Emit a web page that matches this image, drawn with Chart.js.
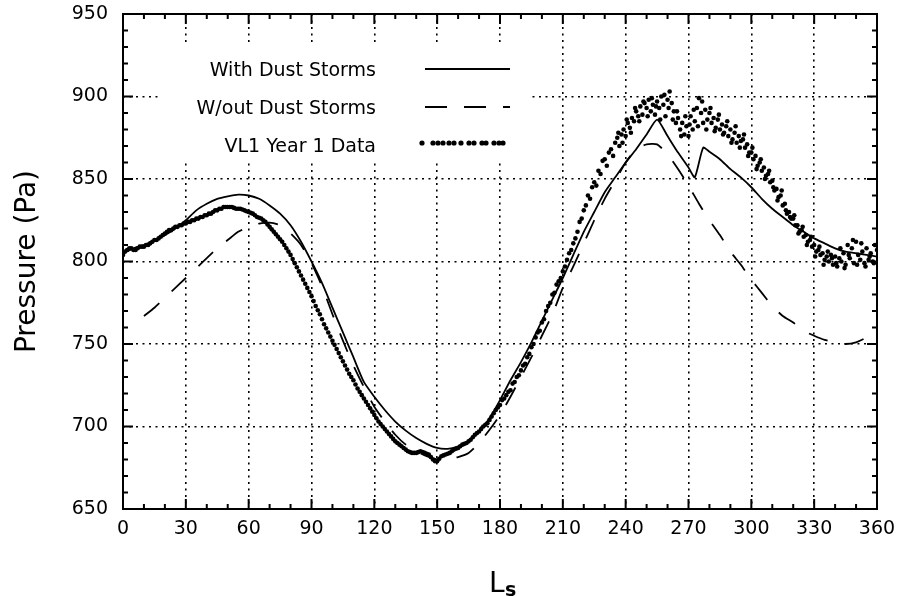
<!DOCTYPE html>
<html>
<head>
<meta charset="utf-8">
<script src="https://cdn.jsdelivr.net/npm/chart.js@4.4.0/dist/chart.umd.min.js"></script>
<style>
  html, body { margin: 0; padding: 0; background: #fff; }
</style>
</head>
<body>
<canvas id="chart" width="898" height="596"></canvas>
<script>
// model run with dust storms
const withLs = [0, 5, 10, 15, 20, 25, 30, 35, 40, 45, 50, 55, 60, 65, 70, 75, 80, 85, 90, 95,
  100, 105, 110, 115, 120, 125, 130, 135, 140, 145, 150, 155, 160, 165, 170, 175, 180, 185, 190, 195,
  200, 205, 210, 215, 220, 225, 230, 235, 240, 245, 250, 255, 260, 265, 270, 273, 277,
  280, 285, 290, 295, 300, 305, 310, 315, 320, 325, 330, 335, 340, 345, 350, 355, 360];
const withP = [805, 808, 810, 813, 816, 820, 825, 831, 835, 838, 839.5, 840.5, 840, 838, 834, 829, 822, 812, 800, 787,
  772, 757, 742, 727, 718, 710, 703, 697.5, 693, 689.5, 687, 686.5, 688, 691, 697, 705, 716, 728, 739, 751,
  764, 777, 790, 804, 818, 830, 842, 851, 860, 868, 877, 886, 876, 866, 857, 851, 869,
  866.5, 862, 856, 851, 845, 838, 832, 827, 822, 818, 814, 811, 808, 806, 805, 804, 803];

// model run without dust storms
const withoutLs = [10, 15, 20, 25, 30, 35, 40, 45, 50, 55, 60, 65, 70, 75, 80, 85, 90, 95,
  100, 105, 110, 115, 120, 125, 130, 135, 140, 145, 150, 155, 160, 165, 170, 175, 180, 185, 190, 195,
  200, 205, 210, 215, 220, 225, 230, 235, 240, 245, 250, 255, 260, 265, 270, 275, 280, 285, 290, 295,
  300, 305, 310, 315, 320, 325, 330, 335, 340, 345, 350, 355, 360];
const withoutP = [767, 772, 778, 784, 790, 796, 802, 808, 813, 818, 821, 823, 823.5, 822, 817, 810, 799, 785,
  768, 752, 737, 724, 712, 703, 695, 689, 685, 682, 680, 680, 681.5, 684, 690, 698, 707, 718, 730, 742,
  755, 768, 784, 797, 811, 825, 838, 849, 860, 868, 871, 871, 865, 856, 846, 835, 825, 816, 806, 798,
  789, 781, 773, 767, 763, 758, 755, 752.5, 751, 750, 751, 754, 759];

// Viking Lander 1, year 1 (one reading per degree of Ls)
const vlLs = [0, 1, 2, 3, 4, 5, 6, 7, 8, 9, 10, 11, 12, 13, 14, 15, 16, 17, 18, 19,
  20, 21, 22, 23, 24, 25, 26, 27, 28, 29, 30, 31, 32, 33, 34, 35, 36, 37, 38, 39,
  40, 41, 42, 43, 44, 45, 46, 47, 48, 49, 50, 51, 52, 53, 54, 55, 56, 57, 58, 59,
  60, 61, 62, 63, 64, 65, 66, 67, 68, 69, 70, 71, 72, 73, 74, 75, 76, 77, 78, 79,
  80, 81, 82, 83, 84, 85, 86, 87, 88, 89, 90, 91, 92, 93, 94, 95, 96, 97, 98, 99,
  100, 101, 102, 103, 104, 105, 106, 107, 108, 109, 110, 111, 112, 113, 114, 115, 116, 117, 118, 119,
  120, 121, 122, 123, 124, 125, 126, 127, 128, 129, 130, 131, 132, 133, 134, 135, 136, 137, 138, 139,
  140, 141, 142, 143, 144, 145, 146, 147, 148, 149, 150, 151, 152, 153, 154, 155, 156, 157, 158, 159,
  160, 161, 162, 163, 164, 165, 166, 167, 168, 169, 170, 171, 172, 173, 174, 175, 176, 177, 178, 179,
  180, 181, 182, 183, 184, 185, 186, 187, 188, 189, 190, 191, 192, 193, 194, 195, 196, 197, 198, 199,
  200, 201, 202, 203, 204, 205, 206, 207, 208, 209, 210, 211, 212, 213, 214, 215, 216, 217, 218, 219,
  220, 221, 222, 223, 224, 225, 226, 227, 228, 229, 230, 231, 232, 233, 234, 235, 236, 237, 238, 239,
  240, 241, 242, 243, 244, 245, 246, 247, 248, 249, 250, 251, 252, 253, 254, 255, 256, 257, 258, 259,
  260, 261, 262, 263, 264, 265, 266, 267, 268, 269, 270, 271, 272, 273, 274, 275, 276, 277, 278, 279,
  280, 281, 282, 283, 284, 285, 286, 287, 288, 289, 290, 291, 292, 293, 294, 295, 296, 297, 298, 299,
  300, 301, 302, 303, 304, 305, 306, 307, 308, 309, 310, 311, 312, 313, 314, 315, 316, 317, 318, 319,
  320, 321, 322, 323, 324, 325, 326, 327, 328, 329, 330, 331, 332, 333, 334, 335, 336, 337, 338, 339,
  340, 341, 342, 343, 344, 345, 346, 347, 348, 349, 350, 351, 352, 353, 354, 355, 356, 357, 358, 359, 360];
const vlP = [804, 806, 807, 808, 808, 807, 807, 808, 809, 809, 809, 810, 810, 811, 812, 813, 813, 814, 815, 816,
  817, 818, 819, 819, 820, 821, 821, 822, 822, 823, 823, 824, 824, 825, 825, 826, 826, 827, 827, 828,
  828, 829, 829, 830, 831, 831, 832, 832, 833, 833, 833, 833, 833, 832.5, 832, 832, 832, 831.5, 831, 830.5,
  830, 829.5, 829, 828, 827, 826.5, 826, 825, 824, 822.5, 821, 819.5, 818, 816.5, 815, 813.5, 812, 810, 808, 806,
  804, 801.5, 799, 796.5, 794, 791.5, 789, 786.5, 784, 781.5, 779, 776, 773, 770.5, 768, 765, 762, 759.5, 757, 754.5,
  752, 749.5, 747, 744.5, 742, 739.5, 737, 734.5, 732, 730, 728, 725.5, 723, 721, 719, 717, 715, 713, 711, 709,
  707, 705, 703, 701.5, 700, 698.5, 697, 695.5, 694, 692.5, 691, 690, 689, 688, 687, 686, 685, 684.5, 684, 684,
  684, 684.5, 685, 684.5, 684, 683.5, 683, 681.5, 680, 679, 679, 680.5, 682, 682.5, 683, 683.5, 684, 685, 686, 686.5,
  687, 688, 689, 689.5, 690, 691, 692, 693.5, 695, 696, 697, 698.5, 700, 701, 702, 704, 706, 708, 710, 711.5,
  713, 716, 717, 719, 721, 722, 726, 727, 730, 731, 734, 737, 738, 742, 744, 748, 750, 754, 757, 758,
  763, 765, 770, 773, 775, 780, 781, 786, 788, 790, 794, 797, 801, 805, 807, 811, 814, 818, 824, 826,
  831, 834, 840, 838, 845, 848, 846, 855, 853, 861, 862, 858, 866, 868, 864, 872, 875, 870, 877, 880,
  876, 884, 881, 887, 885, 891, 888, 894, 889, 896, 893, 898, 891, 895, 889, 897, 893, 900, 895, 888,
  898, 903, 896, 891, 884, 887, 880, 884, 877, 882, 876, 888, 880, 885, 893, 899, 890, 884, 892, 886,
  890, 884, 887, 881, 886, 880, 883, 878, 882, 876, 880, 874, 878, 872, 876, 873, 874, 869, 871, 866,
  866, 862, 864, 858, 860, 855, 857, 852, 853, 848, 849, 843, 844, 839, 840, 834, 835, 829, 830, 826,
  826, 822, 822, 818, 819, 815, 816, 812, 813, 809, 810, 806, 807, 804, 805, 801, 803, 800, 804, 798,
  803, 797, 802, 800, 805, 798, 810, 802, 808, 799, 812, 804, 801, 806, 799, 808, 801, 805, 800, 810, 807];

// extra VL1 readings in the scattered second half of the year
const vlExtraLs = [236.5, 238.5, 240.5, 242.5, 244.5, 246.5, 248.5, 250.5, 252.5, 254.5, 256.5, 258.5,
  260.5, 262.5, 264.5, 266.5, 268.5, 270.5, 272.5, 274.5, 276.5, 278.5, 280.5, 282.5, 284.5, 286.5, 288.5,
  290.5, 292.5, 294.5, 296.5, 298.5, 300.5, 302.5, 304.5, 306.5, 308.5, 310.5, 312.5, 314.5, 316.5, 318.5,
  320.5, 322.5, 324.5, 326.5, 328.5, 330.5, 332.5, 334.5, 336.5, 338.5, 340.5, 342.5, 344.5, 346.5, 348.5,
  350.5, 352.5, 354.5, 356.5, 358.5];
const vlExtraP = [878, 872, 886, 878, 893, 885, 897, 888, 899, 894, 886, 901,
  893, 886, 891, 876, 888, 883, 892, 882, 897, 880, 893, 879, 889, 877, 885,
  872, 882, 869, 877, 864, 869, 856, 862, 850, 855, 845, 837, 843, 831, 827,
  828, 817, 821, 810, 815, 803, 809, 798, 806, 802, 799, 808, 796, 804, 813,
  798, 811, 797, 803, 799];

const legendLabels = ["With Dust Storms", "W/out Dust Storms", "VL1 Year 1 Data"];

const FONT = "'DejaVu Sans', sans-serif";

const toPoints = (xs, ys) => xs.map((x, i) => ({ x: x, y: ys[i] }));

// frame, inward ticks, legend and axis titles
const decorPlugin = {
  id: "decor",
  afterDraw(chart) {
    const ctx = chart.ctx;
    const a = chart.chartArea;
    const xs = chart.scales.x;
    const ys = chart.scales.y;
    ctx.save();

    // legend
    ctx.fillStyle = "#fff";
    ctx.fillRect(158, 45, 370, 116);
    ctx.fillStyle = "#000";
    ctx.font = "19px " + FONT;
    ctx.textAlign = "right";
    ctx.textBaseline = "alphabetic";
    ctx.fillText(legendLabels[0], 376, 76);
    ctx.fillText(legendLabels[1], 376, 114);
    ctx.fillText(legendLabels[2], 376, 152);
    ctx.strokeStyle = "#000";
    ctx.lineWidth = 2;
    ctx.beginPath();
    ctx.moveTo(425, 69);
    ctx.lineTo(510, 69);
    ctx.stroke();
    ctx.setLineDash([22, 17]);
    ctx.beginPath();
    ctx.moveTo(425, 107);
    ctx.lineTo(510, 107);
    ctx.stroke();
    ctx.setLineDash([]);
    [422, 433, 438, 443, 449, 454, 461, 469, 474, 482, 486, 494, 499, 503].forEach(px => {
      ctx.beginPath();
      ctx.arc(px, 143, 2.6, 0, Math.PI * 2);
      ctx.fill();
    });

    // frame
    ctx.lineWidth = 2;
    ctx.strokeRect(a.left, a.top, a.right - a.left, a.bottom - a.top);

    // inward ticks
    ctx.beginPath();
    for (let v = 0; v <= 360; v += 10) {
      const px = xs.getPixelForValue(v);
      const len = v % 30 === 0 ? 10 : 5;
      ctx.moveTo(px, a.bottom);
      ctx.lineTo(px, a.bottom - len);
      ctx.moveTo(px, a.top);
      ctx.lineTo(px, a.top + len);
    }
    for (let v = 650; v <= 950; v += 10) {
      const py = ys.getPixelForValue(v);
      const len = v % 50 === 0 ? 10 : 5;
      ctx.moveTo(a.left, py);
      ctx.lineTo(a.left + len, py);
      ctx.moveTo(a.right, py);
      ctx.lineTo(a.right - len, py);
    }
    ctx.stroke();

    // axis titles
    ctx.textAlign = "left";
    ctx.font = "28px " + FONT;
    ctx.fillText("L", 489, 592);
    ctx.font = "bold 19px " + FONT;
    ctx.fillText("s", 505, 596);

    ctx.translate(35, (a.top + a.bottom) / 2);
    ctx.rotate(-Math.PI / 2);
    ctx.textAlign = "center";
    ctx.font = "28px " + FONT;
    ctx.fillText("Pressure (Pa)", 0, 0);
    ctx.restore();
  }
};

new Chart(document.getElementById("chart"), {
  type: "scatter",
  data: {
    datasets: [
      {
        label: legendLabels[0],
        data: toPoints(withLs, withP),
        showLine: true,
        borderColor: "#000",
        borderWidth: 1.8,
        pointRadius: 0,
        tension: 0.2
      },
      {
        label: legendLabels[1],
        data: toPoints(withoutLs, withoutP),
        showLine: true,
        borderColor: "#000",
        borderWidth: 1.8,
        borderDash: [20, 17],
        pointRadius: 0,
        tension: 0.2
      },
      {
        label: legendLabels[2],
        data: toPoints(vlLs, vlP).concat(toPoints(vlExtraLs, vlExtraP)),
        showLine: false,
        pointRadius: 2.3,
        pointBorderWidth: 0,
        pointBackgroundColor: "#000"
      }
    ]
  },
  options: {
    responsive: false,
    animation: false,
    layout: { padding: { left: 0, right: 21, top: 14, bottom: 0 } },
    plugins: {
      legend: { display: false },
      tooltip: { enabled: false }
    },
    scales: {
      x: {
        type: "linear",
        min: 0,
        max: 360,
        afterFit: scale => {
          // keep the plot box where the original has it
          scale.height = 87;
          scale.paddingLeft = 0;
          scale.paddingRight = 0;
        },
        ticks: {
          stepSize: 30,
          autoSkip: false,
          maxRotation: 0,
          padding: 9,
          color: "#000",
          font: { family: FONT, size: 19 }
        },
        grid: { color: "#000", lineWidth: 1.6, drawTicks: false },
        border: { display: false, dash: [2, 4.5] }
      },
      y: {
        min: 650,
        max: 950,
        afterFit: scale => {
          scale.width = 123;
          scale.paddingTop = 0;
          scale.paddingBottom = 0;
        },
        ticks: {
          stepSize: 50,
          padding: 15,
          color: "#000",
          font: { family: FONT, size: 19 }
        },
        grid: { color: "#000", lineWidth: 1.6, drawTicks: false },
        border: { display: false, dash: [2, 4.5] }
      }
    }
  },
  plugins: [decorPlugin]
});
</script>
</body>
</html>
